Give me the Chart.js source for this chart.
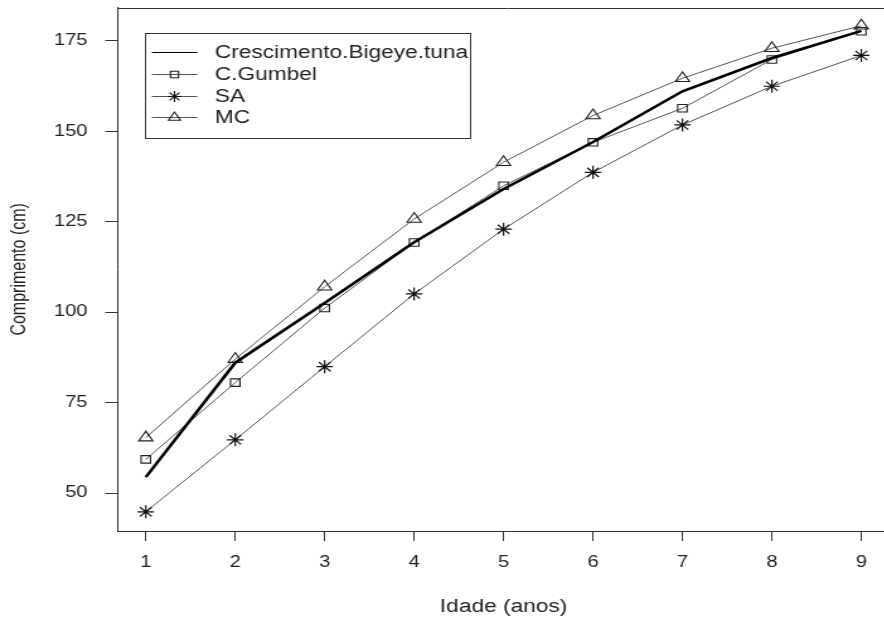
<!DOCTYPE html>
<html>
<head>
<meta charset="utf-8">
<script src="https://cdn.jsdelivr.net/npm/chart.js@4.4.0/dist/chart.umd.min.js"></script>
<style>
  html, body { margin: 0; padding: 0; background: #fff; overflow: hidden; }
  #wrap { width: 884px; height: 619px; overflow: hidden; position: relative; }
  canvas { display: block; transform: scaleX(1.26); transform-origin: 0 0; }
</style>
</head>
<body>
<div id="wrap"><canvas id="c" width="714" height="619"></canvas></div>
<script>
// ---- data ----
const ages = [1, 2, 3, 4, 5, 6, 7, 8, 9];
const crescimento = [54.4, 86.0, 102.5, 119.3, 134.0, 147.0, 161.0, 170.2, 177.7];
const gumbel = [59.3, 80.5, 101.1, 119.2, 134.9, 146.9, 156.3, 169.8, 177.6];
const sa = [44.8, 64.7, 84.9, 105.0, 122.9, 138.6, 151.7, 162.4, 170.9];
const mc = [65.3, 87.0, 107.0, 125.7, 141.4, 154.3, 164.6, 172.9, 179.1];
const xTicks = [1, 2, 3, 4, 5, 6, 7, 8, 9];
const yTicks = [50, 75, 100, 125, 150, 175];
const seriesLabels = ['Crescimento.Bigeye.tuna', 'C.Gumbel', 'SA', 'MC'];

const toXY = arr => arr.map((v, i) => ({ x: ages[i], y: v }));
const thin = '#555';
const axisColor = '#333';
const textColor = '#222';
const FONT = 'Arial, "Liberation Sans", sans-serif';

// top edge of the R-style box (left/bottom come from the axes; right edge lies outside the picture)
const boxPlugin = {
  id: 'rbox',
  afterDraw(chart) {
    const { ctx, chartArea: a } = chart;
    ctx.save();
    ctx.strokeStyle = axisColor;
    ctx.lineWidth = 1;
    ctx.beginPath();
    ctx.moveTo(Math.round(a.left), Math.round(a.top) + 0.5);
    ctx.lineTo(chart.width, Math.round(a.top) + 0.5);
    ctx.stroke();
    ctx.restore();
  }
};

const legendPlugin = {
  id: 'rlegend',
  afterDraw(chart) {
    const { ctx } = chart;
    const bx = 115, by = 33, bw = 258, bh = 105;
    ctx.save();
    ctx.fillStyle = '#fff';
    ctx.fillRect(bx, by, bw, bh);
    ctx.strokeStyle = axisColor;
    ctx.lineWidth = 1;
    ctx.strokeRect(bx + 0.5, by + 0.5, bw, bh);
    const rows = [52, 74, 96, 117];
    chart.data.datasets.forEach((ds, i) => {
      const y = rows[i];
      ctx.strokeStyle = ds.borderColor;
      ctx.lineWidth = 1;
      ctx.beginPath();
      ctx.moveTo(120.5, y + 0.5);
      ctx.lineTo(156.5, y + 0.5);
      ctx.stroke();
      if (ds.pointRadius > 0) {
        ctx.strokeStyle = ds.pointBorderColor;
        ctx.fillStyle = 'rgba(0,0,0,0)';
        ctx.lineWidth = 1.1;
        Chart.helpers.drawPoint(ctx, { pointStyle: ds.pointStyle, radius: ds.pointRadius * 0.85, rotation: 0, borderWidth: 1.1 }, 138.5, y + 0.5);
      }
      ctx.fillStyle = textColor;
      ctx.font = '18px ' + FONT;
      ctx.textBaseline = 'middle';
      ctx.textAlign = 'left';
      ctx.fillText(ds.label, 170.5, y + 1);
    });
    ctx.restore();
  }
};

new Chart(document.getElementById('c'), {
  type: 'line',
  data: {
    datasets: [
      { label: seriesLabels[0], data: toXY(crescimento), borderColor: '#000', borderWidth: 2.6, pointRadius: 0, tension: 0 },
      { label: seriesLabels[1], data: toXY(gumbel), borderColor: thin, borderWidth: 1, pointStyle: 'rect', pointRadius: 5.3,
        pointBorderColor: '#222', pointBackgroundColor: 'rgba(0,0,0,0)', pointBorderWidth: 1.1 },
      { label: seriesLabels[2], data: toXY(sa), borderColor: thin, borderWidth: 1, pointStyle: 'star', pointRadius: 6.5,
        pointBorderColor: '#111', pointBackgroundColor: 'rgba(0,0,0,0)', pointBorderWidth: 1.2 },
      { label: seriesLabels[3], data: toXY(mc), borderColor: thin, borderWidth: 1, pointStyle: 'triangle', pointRadius: 6.5,
        pointBorderColor: '#222', pointBackgroundColor: 'rgba(0,0,0,0)', pointBorderWidth: 1.1 }
    ]
  },
  options: {
    responsive: false,
    devicePixelRatio: 1,
    animation: false,
    events: [],
    layout: { padding: { left: 0, top: 7, right: 2, bottom: 0 } },
    plugins: { legend: { display: false }, tooltip: { enabled: false } },
    scales: {
      x: {
        type: 'linear', min: 0.68, max: 9.32,
        afterBuildTicks: s => { s.ticks = xTicks.map(v => ({ value: v })); },
        afterFit: s => { s.height = 88; s.paddingLeft = 0; s.paddingRight = 0; },
        grid: { display: true, drawOnChartArea: false, drawTicks: true, tickLength: 10, color: axisColor, lineWidth: 1 },
        border: { display: true, color: axisColor, width: 1 },
        ticks: { font: { size: 16, family: FONT }, color: textColor, padding: 12, maxRotation: 0 },
        title: { display: true, text: 'Idade (anos)', font: { size: 18, family: FONT }, color: textColor, padding: { top: 0, bottom: 1 } }
      },
      y: {
        type: 'linear', min: 39.5, max: 184.1,
        afterBuildTicks: s => { s.ticks = yTicks.map(v => ({ value: v })); },
        afterFit: s => { s.width = 93; s.paddingTop = 0; s.paddingBottom = 0; },
        grid: { display: true, drawOnChartArea: false, drawTicks: true, tickLength: 9.5, color: axisColor, lineWidth: 1 },
        border: { display: true, color: axisColor, width: 1 },
        ticks: { font: { size: 16, family: FONT }, color: textColor, padding: 14 },
        title: { display: true, text: 'Comprimento (cm)', font: { size: 16, family: FONT }, color: textColor, padding: { top: 6, bottom: 0 } }
      }
    }
  },
  plugins: [boxPlugin, legendPlugin]
});
</script>
</body>
</html>
